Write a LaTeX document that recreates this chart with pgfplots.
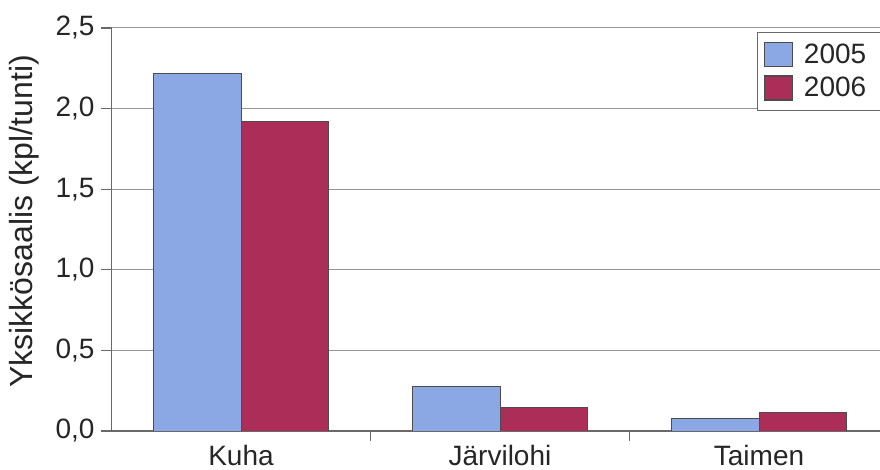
\documentclass[border=0pt]{standalone}
\usepackage{fontspec}
\setmainfont{Liberation Sans}
\usepackage{pgfplots}
\pgfplotsset{compat=1.18}

\definecolor{bar2005}{RGB}{140,168,228}
\definecolor{bar2006}{RGB}{172,46,88}
\definecolor{gridgray}{RGB}{150,150,150}
\definecolor{axisgray}{RGB}{105,105,105}

\begin{document}
\begin{tikzpicture}
\useasboundingbox (0,0) rectangle (440bp,235bp);
\clip (0,0) rectangle (440bp,235bp);
\begin{axis}[
  at={(55.75bp,19.5bp)}, anchor=south west,
  scale only axis, width=388.5bp, height=201.5bp,
  xmin=-0.5, xmax=2.5, ymin=0, ymax=2.5,
  ybar=0pt, bar width=0.336,
  axis x line*=bottom, axis y line*=left,
  axis line style={draw=axisgray, line width=0.6bp},
  ymajorgrids, grid style={draw=gridgray, line width=0.5bp},
  tick align=outside, major tick length=5bp,
  tick style={draw=axisgray, line width=0.6bp},
  ytick={0,0.5,...,2.5},
  xtick={0.5,1.5}, xticklabels={,,},
  extra x ticks={0,1,2},
  extra x tick labels={Kuha, Järvilohi, Taimen},
  extra x tick style={major tick length=0pt},
  xticklabel style={yshift=-3.5bp},
  /pgf/number format/assume math mode=true,
  yticklabel style={/pgf/number format/.cd, fixed, fixed zerofill, precision=1, use comma},
  tick label style={font=\fontsize{14bp}{16bp}\selectfont, text=black!85},
  ylabel={Yksikkösaalis (kpl/tunti)},
  every axis y label/.style={at={([xshift=-43.5bp]axis description cs:0,0.52)}, rotate=90, anchor=center,
    font=\fontsize{16bp}{19bp}\selectfont, text=black!85},
  legend cell align=left,
  legend image code/.code={\draw[#1, line width=0.6bp] (0bp,-6bp) rectangle (14bp,6bp);},
  legend style={at={(0.831,0.990)}, anchor=north west, draw=axisgray, line width=0.6bp,
    fill=white, inner xsep=3bp, inner ysep=4bp, row sep=2.25bp, column sep=4bp,
    nodes={inner sep=1.5bp}, font=\fontsize{14bp}{16bp}\selectfont, text=black!85},
]
\addplot[fill=bar2005, draw=black!70, line width=0.5bp] coordinates {(0,2.215) (1,0.279) (2,0.079)};
\addplot[fill=bar2006, draw=black!70, line width=0.5bp] coordinates {(0,1.92) (1,0.145) (2,0.116)};
\legend{\makebox[48bp][l]{2005}, \makebox[48bp][l]{2006}}
\end{axis}
\end{tikzpicture}
\end{document}
